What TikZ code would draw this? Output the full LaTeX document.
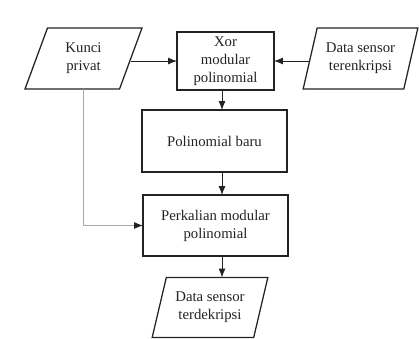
\documentclass[tikz,border=0pt]{standalone}
\usepackage{fontspec}
\setmainfont{Liberation Serif}
\usetikzlibrary{arrows.meta, positioning, shapes.geometric}
\definecolor{garisHitam}{HTML}{232323}
\definecolor{garisAbu}{HTML}{A9A9A9}
\tikzset{
  kotakDasar/.style={
    draw=garisHitam, line width=0.9pt, align=center,
    font=\fontsize{10.5}{12.8}\selectfont, text=garisHitam,
    inner sep=0pt, outer sep=0pt
  },
  kotakProses/.style={kotakDasar, rectangle},
  kotakData/.style={kotakDasar, trapezium, trapezium left angle=70,
    trapezium right angle=110, trapezium stretches=true},
  panah/.style={-{Latex[length=2.2mm, width=1.7mm]}, line width=0.6pt, garisHitam},
  panahAbu/.style={-{Latex[length=2.2mm, width=1.7mm, color=garisHitam]},
    line width=0.6pt, garisAbu},
}
\begin{document}
\begin{tikzpicture}
    \useasboundingbox (0,0) rectangle (10.475,-8.45);
    \coordinate (kolom) at (5.55,0);
    \node[kotakData, minimum width=2.925cm, minimum height=1.525cm] (kunci) at (2.0875,-1.4625) {Kunci\\privat};
    \node[kotakProses, minimum width=2.425cm, minimum height=1.45cm] (xor) at (5.6375,-1.525) {Xor\\modular\\polinomial};
    \node[kotakData, minimum width=2.875cm, minimum height=1.525cm] (data) at (9.0125,-1.4625) {Data sensor\\terenkripsi};
    \node[kotakProses, minimum width=3.625cm, minimum height=1.55cm] (baru) at (5.3625,-3.525) {Polinomial baru};
    \node[kotakProses, minimum width=3.625cm, minimum height=1.525cm] (kali) at (5.3875,-5.6375) {Perkalian modular\\polinomial};
    \node[kotakData, minimum width=2.9cm, minimum height=1.5cm] (hasil) at (5.25,-7.6875) {Data sensor\\terdekripsi};
    \draw[panah] (kunci.east |- xor.west) -- (xor.west);
    \draw[panah] (data.west |- xor.east) -- (xor.east);
    \draw[panah] (xor.south -| kolom) -- (baru.north -| kolom);
    \draw[panah] (baru.south -| kolom) -- (kali.north -| kolom);
    \draw[panah] (kali.south -| kolom) -- (hasil.north -| kolom);
    \draw[panahAbu] (kunci) |- (kali);
  \end{tikzpicture}
\end{document}
